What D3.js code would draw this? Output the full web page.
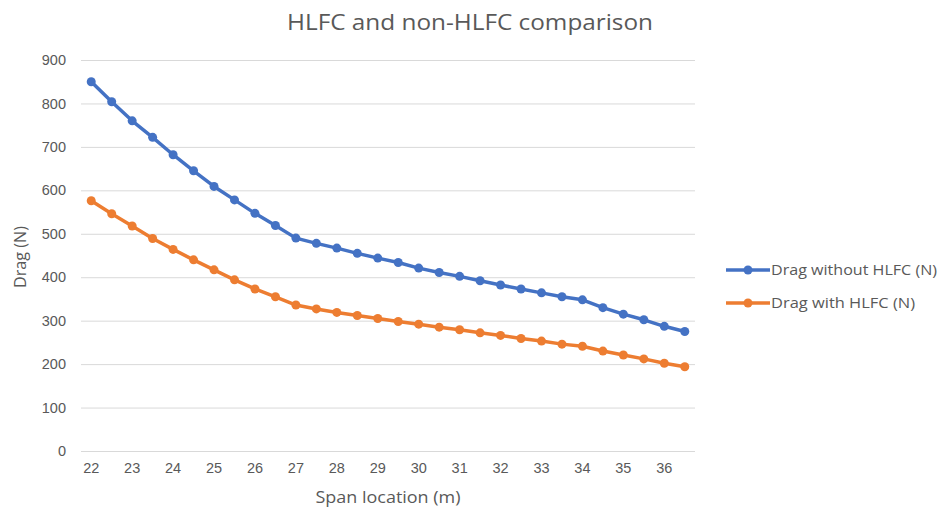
<!DOCTYPE html>
<html>
<head>
<meta charset="utf-8">
<script src="https://cdn.jsdelivr.net/npm/d3@7"></script>
<style>
  html, body { margin: 0; padding: 0; background: #fff; }
  svg { display: block; font-family: "Open Sans", "Noto Sans", sans-serif; }
</style>
</head>
<body>
<svg id="chart" width="941" height="511"></svg>
<script>
// Span stations (m), every 0.5 m
const spanLocations = ["22","22.5","23","23.5","24","24.5","25","25.5","26","26.5","27","27.5","28","28.5","29","29.5","30","30.5","31","31.5","32","32.5","33","33.5","34","34.5","35","35.5","36","36.5"];
// Drag without hybrid laminar flow control (N)
const dragWithoutHLFC = [850,804,760,722,682,645,609,578,547,519,490,478,467,455,444,434,421,411,402,392,382,373,364,355,348,330,315,302,287,275];
// Drag with hybrid laminar flow control (N)
const dragWithHLFC = [576,546,518,489,464,440,417,394,373,355,336,327,319,312,305,298,292,285,279,272,266,259,253,246,241,230,221,212,202,194];
const yTicks = [0,100,200,300,400,500,600,700,800,900];
const xTickLabels = ["22","23","24","25","26","27","28","29","30","31","32","33","34","35","36"];

const seriesList = [
  { name: "Drag without HLFC (N)", values: dragWithoutHLFC, color: "#4472C4", width: 166 },
  { name: "Drag with HLFC (N)", values: dragWithHLFC, color: "#ED7D31", width: 144 }
];

const svg = d3.select("#chart");
const textColor = "#595959";
const plot = { left: 81, right: 695, top: 60, bottom: 451 };

const x = d3.scaleBand().domain(spanLocations).range([plot.left, plot.right]).padding(0);
const xc = d => x(d) + x.bandwidth() / 2;
const y = d3.scaleLinear().domain([0, 900]).range([plot.bottom, plot.top]);

// Title
svg.append("text")
  .attr("x", 470).attr("y", 30)
  .attr("text-anchor", "middle")
  .attr("fill", textColor)
  .attr("textLength", 366)
  .attr("lengthAdjust", "spacingAndGlyphs")
  .style("font-size", "21px")
  .text("HLFC and non-HLFC comparison");

// Horizontal gridlines and y labels
const yAxis = d3.axisLeft(y).tickValues(yTicks).tickSize(-(plot.right - plot.left)).tickPadding(15);
const gy = svg.append("g").attr("transform", `translate(${plot.left},0)`).call(yAxis);
gy.select(".domain").remove();
gy.selectAll(".tick line").attr("stroke", "#d9d9d9").attr("stroke-width", 1);
gy.selectAll(".tick text").attr("fill", textColor).style("font-size", "14.5px").style("font-family", "inherit");

// X axis labels (every other category)
const xAxis = d3.axisBottom(x).tickValues(xTickLabels).tickSize(0).tickPadding(12);
const gx = svg.append("g").attr("transform", `translate(0,${plot.bottom})`).call(xAxis);
gx.select(".domain").remove();
gx.selectAll(".tick text").attr("fill", textColor).style("font-size", "14.5px").style("font-family", "inherit");

// Axis titles
svg.append("text")
  .attr("x", 388).attr("y", 503)
  .attr("text-anchor", "middle")
  .attr("fill", textColor)
  .attr("textLength", 145)
  .attr("lengthAdjust", "spacingAndGlyphs")
  .style("font-size", "16px")
  .text("Span location (m)");

svg.append("text")
  .attr("transform", "translate(26,257) rotate(-90)")
  .attr("text-anchor", "middle")
  .attr("fill", textColor)
  .attr("textLength", 62)
  .attr("lengthAdjust", "spacingAndGlyphs")
  .style("font-size", "15.5px")
  .text("Drag (N)");

// Series lines with markers
const line = d3.line().x((d, i) => xc(spanLocations[i])).y(d => y(d));
seriesList.forEach(s => {
  svg.append("path")
    .datum(s.values)
    .attr("fill", "none")
    .attr("stroke", s.color)
    .attr("stroke-width", 3.5)
    .attr("stroke-linejoin", "round")
    .attr("d", line);
  svg.append("g").selectAll("circle")
    .data(s.values)
    .join("circle")
    .attr("cx", (d, i) => xc(spanLocations[i]))
    .attr("cy", d => y(d))
    .attr("r", 4.5)
    .attr("fill", s.color);
});

// Legend
const legend = svg.append("g");
seriesList.forEach((s, i) => {
  const ly = 270 + i * 33;
  const g = legend.append("g").attr("transform", `translate(726,${ly})`);
  g.append("line").attr("x1", 0).attr("x2", 44).attr("y1", 0).attr("y2", 0)
    .attr("stroke", s.color).attr("stroke-width", 3.5);
  g.append("circle").attr("cx", 22).attr("cy", 0).attr("r", 4.5).attr("fill", s.color);
  g.append("text").attr("x", 45).attr("y", 0).attr("dy", "0.35em")
    .attr("fill", textColor)
    .attr("textLength", s.width)
    .attr("lengthAdjust", "spacingAndGlyphs")
    .style("font-size", "14.5px").text(s.name);
});
</script>
</body>
</html>
